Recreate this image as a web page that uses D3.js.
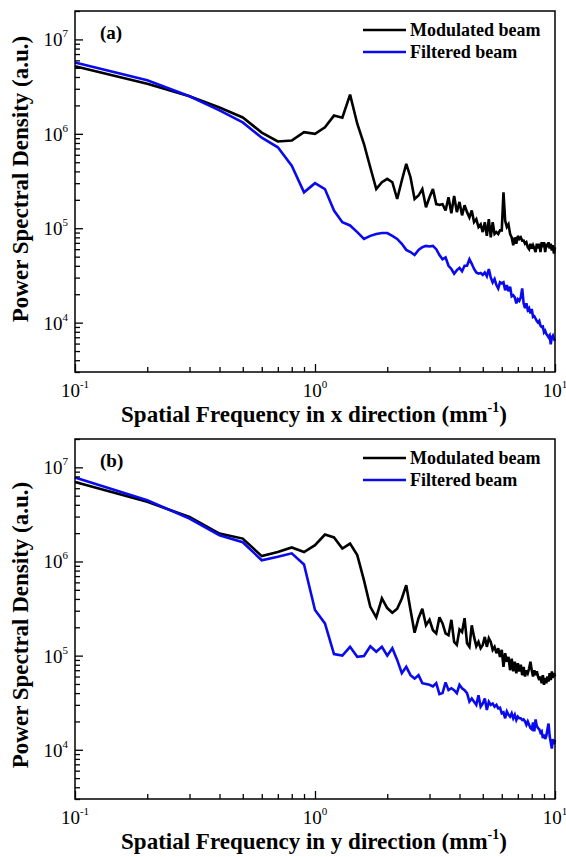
<!DOCTYPE html>
<html>
<head>
<meta charset="utf-8">
<script src="https://cdn.jsdelivr.net/npm/d3@7"></script>
<style>
  html, body { margin: 0; padding: 0; background: #fff; }
  svg { display: block; }
  text { font-family: "Liberation Serif", "Times New Roman", serif; fill: #000; }
</style>
</head>
<body>
<svg id="chart" width="566" height="857"></svg>
<script>
// ---------------- DATA ----------------
const freq = [
  0.1,0.2,0.3,0.4,0.5,0.6,0.7,0.8,0.9,1.0,
  1.1,1.2,1.3,1.4,1.5,1.6,1.7,1.8,1.9,2.0,
  2.1,2.2,2.3,2.4,2.5,2.6,2.7,2.8,2.9,3.0,
  3.1,3.2,3.3,3.4,3.5,3.6,3.7,3.8,3.9,4.0,
  4.1,4.2,4.3,4.4,4.5,4.6,4.7,4.8,4.9,5.0,
  5.1,5.2,5.3,5.4,5.5,5.6,5.7,5.8,5.9,6.0,
  6.1,6.2,6.3,6.4,6.5,6.6,6.7,6.8,6.9,7.0,
  7.1,7.2,7.3,7.4,7.5,7.6,7.7,7.8,7.9,8.0,
  8.1,8.2,8.3,8.4,8.5,8.6,8.7,8.8,8.9,9.0,
  9.1,9.2,9.3,9.4,9.5,9.6,9.7,9.8,9.9,10.0
];

// (a) x direction
const xModulated = [
  5.2e6,3.4e6,2.5e6,1.9e6,1.49e6,1.03e6,8.3e5,8.5e5,1.04e6,1.0e6,
  1.17e6,1.56e6,1.48e6,2.6e6,1.28e6,7.8e5,4.4e5,2.6e5,3.07e5,3.33e5,
  3.07e5,2.04e5,3.2e5,4.8e5,3.47e5,2.04e5,2.22e5,2.6e5,1.67e5,2.13e5,
  2.6e5,1.8e5,1.77e5,1.8e5,1.54e5,2.13e5,1.44e5,2.2e5,1.48e5,1.9e5,
  1.37e5,1.75e5,1.48e5,1.3e5,1.54e5,1.16e5,1.25e5,1.03e5,1.1e5,9.1e4,
  1.16e5,8.3e4,1.25e5,8.0e4,1.16e5,8.7e4,9.1e4,8.7e4,9.5e4,9.5e4,
  2.4e5,1.2e5,1.03e5,1.1e5,8.7e4,8.0e4,6.6e4,8.0e4,6.85e4,8.3e4,
  7.7e4,8.0e4,7.4e4,7.4e4,6.85e4,7.1e4,6.3e4,6.0e4,6.85e4,6.1e4,
  6.6e4,6.1e4,5.6e4,6.85e4,6.1e4,6.85e4,5.6e4,7.1e4,6.3e4,7.1e4,
  5.6e4,6.85e4,6.3e4,7.1e4,6.1e4,6.85e4,5.8e4,6.6e4,5.4e4,6.3e4
];
const xFiltered = [
  5.7e6,3.7e6,2.5e6,1.77e6,1.32e6,9.1e5,7.2e5,4.6e5,2.4e5,3.0e5,
  2.6e5,1.54e5,1.16e5,1.07e5,9.1e4,7.7e4,8.3e4,8.7e4,8.9e4,8.9e4,
  8.3e4,7.7e4,6.85e4,5.9e4,5.6e4,5.2e4,5.9e4,6.3e4,6.5e4,6.4e4,
  6.5e4,6.0e4,5.2e4,4.7e4,4.9e4,4.0e4,3.7e4,3.3e4,3.6e4,3.8e4,
  3.5e4,4.0e4,4.0e4,4.7e4,4.2e4,3.7e4,3.4e4,3.3e4,3.35e4,3.2e4,
  3.4e4,3.1e4,3.7e4,3.0e4,2.67e4,2.9e4,2.5e4,2.3e4,2.67e4,2.6e4,
  2.67e4,2.2e4,2.5e4,2.15e4,2.4e4,1.9e4,1.95e4,1.85e4,1.6e4,1.77e4,
  1.7e4,1.85e4,2.3e4,1.6e4,1.42e4,1.6e4,1.36e4,1.42e4,1.25e4,1.4e4,
  1.15e4,1.17e4,1.1e4,1.04e4,1.0e4,1.04e4,9.3e3,9.0e3,9.1e3,7.9e3,
  8.2e3,7.6e3,7.3e3,7.0e3,7.3e3,5.9e3,7.0e3,7.3e3,6.7e3,6.4e3
];

// (b) y direction
const yModulated = [
  7.0e6,4.3e6,2.97e6,1.98e6,1.75e6,1.14e6,1.26e6,1.41e6,1.26e6,1.49e6,
  1.93e6,1.8e6,1.37e6,1.55e6,1.17e6,6.3e5,3.3e5,2.55e5,4.05e5,3.2e5,
  2.85e5,3.15e5,4.05e5,5.6e5,3.05e5,1.75e5,2.5e5,3.15e5,2.1e5,2.4e5,
  1.86e5,1.72e5,2.55e5,2.2e5,1.72e5,1.65e5,2.4e5,1.4e5,1.3e5,1.9e5,
  1.78e5,2.5e5,1.35e5,1.24e5,2.1e5,1.58e5,1.26e5,1.4e5,1.2e5,1.3e5,
  1.58e5,1.24e5,1.53e5,1.4e5,1.15e5,1.24e5,1.06e5,1.2e5,9.7e4,1.15e5,
  7.6e4,1.06e5,8.6e4,9.7e4,7.0e4,9.3e4,6.8e4,8.6e4,6.5e4,8.3e4,
  6.8e4,8.0e4,6.2e4,7.6e4,6.0e4,7.0e4,6.5e4,7.3e4,8.6e4,7.0e4,
  6.0e4,7.0e4,6.2e4,6.8e4,6.0e4,5.5e4,6.0e4,5.1e4,6.2e4,4.9e4,
  5.8e4,5.1e4,6.0e4,5.3e4,6.5e4,5.5e4,6.8e4,5.8e4,6.5e4,6.0e4
];
const yFiltered = [
  7.8e6,4.47e6,2.86e6,1.9e6,1.6e6,1.03e6,1.12e6,1.22e6,9.3e5,3.05e5,
  2.2e5,1.04e5,1.0e5,1.24e5,9.7e4,9.9e4,1.26e5,1.1e5,1.24e5,1.0e5,
  1.2e5,9.0e4,6.5e4,7.6e4,6.2e4,5.7e4,6.2e4,5.1e4,5.0e4,4.9e4,
  4.7e4,5.1e4,3.9e4,4.0e4,5.2e4,4.3e4,4.5e4,4.3e4,4.0e4,4.9e4,
  4.5e4,4.3e4,4.0e4,3.24e4,3.5e4,3.24e4,3.0e4,3.8e4,2.87e4,3.1e4,
  3.5e4,2.65e4,3.24e4,3.0e4,3.1e4,2.87e4,3.0e4,2.75e4,2.8e4,2.44e4,
  2.5e4,2.16e4,2.55e4,2.35e4,2.25e4,2.44e4,2.16e4,2.35e4,2.07e4,2.25e4,
  2.16e4,2.16e4,2.07e4,2.1e4,2.0e4,1.84e4,2.0e4,1.84e4,1.7e4,1.65e4,
  1.95e4,1.57e4,2.1e4,1.78e4,1.7e4,1.65e4,1.52e4,1.57e4,1.33e4,1.45e4,
  1.3e4,1.4e4,1.65e4,1.9e4,1.4e4,1.2e4,1.03e4,1.3e4,1.15e4,1.27e4
];

const xMajorTicks = [0.1, 1, 10];
const xTickExponents = ["-1", "0", "1"];
const xMinorTicks = [0.2,0.3,0.4,0.5,0.6,0.7,0.8,0.9,2,3,4,5,6,7,8,9];
const yMajorTicks = [1e4, 1e5, 1e6, 1e7];
const yTickExponents = ["4", "5", "6", "7"];
const yMinorTicks = [3e3,4e3,5e3,6e3,7e3,8e3,9e3,
  2e4,3e4,4e4,5e4,6e4,7e4,8e4,9e4,
  2e5,3e5,4e5,5e5,6e5,7e5,8e5,9e5,
  2e6,3e6,4e6,5e6,6e6,7e6,8e6,9e6,2e7];
const seriesNames = ["Modulated beam", "Filtered beam"];
const seriesColors = ["#000000", "#0a0aee"];

const panels = [
  { tag: "(a)", dir: "x", series: [xModulated, xFiltered], top: 11, bottom: 372, ylabY: 179 },
  { tag: "(b)", dir: "y", series: [yModulated, yFiltered], top: 439, bottom: 799, ylabY: 625 }
];

// ---------------- DRAW ----------------
const svg = d3.select("#chart");
const left = 75, right = 555;

panels.forEach(p => {
  const x = d3.scaleLog().domain([0.1, 10]).range([left, right]);
  const y = d3.scaleLog().domain([3e3, 2e7]).range([p.bottom, p.top]);
  const g = svg.append("g");

  // data lines
  const line = d3.line()
    .x((d, i) => x(freq[i]))
    .y(d => y(d));
  p.series.forEach((s, k) => {
    g.append("path")
      .datum(s)
      .attr("d", line)
      .attr("fill", "none")
      .attr("stroke", seriesColors[k])
      .attr("stroke-width", 2.6)
      .attr("stroke-linejoin", "miter")
      .attr("stroke-miterlimit", 3);
  });

  // axes (inward ticks)
  const axStyle = sel => {
    sel.select(".domain").remove();
    sel.selectAll("text").remove();
    sel.selectAll("line").attr("stroke", "#000").attr("stroke-width", 1.3);
  };
  g.append("g").attr("transform", `translate(0,${p.bottom})`)
    .call(d3.axisBottom(x).tickValues(xMinorTicks).tickSizeInner(-5).tickSizeOuter(0))
    .call(axStyle);
  g.append("g").attr("transform", `translate(0,${p.bottom})`)
    .call(d3.axisBottom(x).tickValues(xMajorTicks).tickSizeInner(-8).tickSizeOuter(0))
    .call(axStyle);
  g.append("g").attr("transform", `translate(${left},0)`)
    .call(d3.axisLeft(y).tickValues(yMinorTicks.filter(v => y(v) >= p.top - 0.5)).tickSizeInner(-5).tickSizeOuter(0))
    .call(axStyle);
  g.append("g").attr("transform", `translate(${left},0)`)
    .call(d3.axisLeft(y).tickValues(yMajorTicks).tickSizeInner(-8).tickSizeOuter(0))
    .call(axStyle);

  // frame
  g.append("rect")
    .attr("x", left).attr("y", p.top)
    .attr("width", right - left).attr("height", p.bottom - p.top)
    .attr("fill", "none").attr("stroke", "#000").attr("stroke-width", 1.5);

  // y tick labels
  yMajorTicks.forEach((v, i) => {
    const t = g.append("text")
      .attr("x", left - 7).attr("y", y(v) + 7)
      .attr("text-anchor", "end")
      .attr("font-size", 19);
    t.append("tspan").text("10");
    t.append("tspan").attr("dy", -9).attr("font-size", 11).text(yTickExponents[i]);
  });
  // x tick labels
  xMajorTicks.forEach((v, i) => {
    const t = g.append("text")
      .attr("x", x(v)).attr("y", p.bottom + 25)
      .attr("text-anchor", "middle")
      .attr("font-size", 19);
    t.append("tspan").text("10");
    t.append("tspan").attr("dy", -9).attr("font-size", 11).text(xTickExponents[i]);
  });

  // axis titles
  const xt = g.append("text")
    .attr("x", 314).attr("y", p.bottom + 50)
    .attr("text-anchor", "middle")
    .attr("font-size", 23).attr("font-weight", "bold");
  xt.append("tspan").text(`Spatial Frequency in ${p.dir} direction (mm`);
  xt.append("tspan").attr("dy", -10).attr("font-size", 14).text("-1");
  xt.append("tspan").attr("dy", 10).text(")");

  g.append("text")
    .attr("transform", `translate(28,${p.ylabY}) rotate(-90)`)
    .attr("text-anchor", "middle")
    .attr("font-size", 23).attr("font-weight", "bold")
    .text("Power Spectral Density (a.u.)");

  // panel tag
  g.append("text")
    .attr("x", left + 25).attr("y", p.top + 28)
    .attr("font-size", 19).attr("font-weight", "bold")
    .text(p.tag);

  // legend
  seriesNames.forEach((name, k) => {
    const ly = p.top + 19 + k * 22;
    g.append("line")
      .attr("x1", 363).attr("x2", 406)
      .attr("y1", ly).attr("y2", ly)
      .attr("stroke", seriesColors[k]).attr("stroke-width", 2.6);
    g.append("text")
      .attr("x", 410).attr("y", ly + 6)
      .attr("font-size", 18).attr("font-weight", "bold")
      .text(name);
  });
});
</script>
</body>
</html>
